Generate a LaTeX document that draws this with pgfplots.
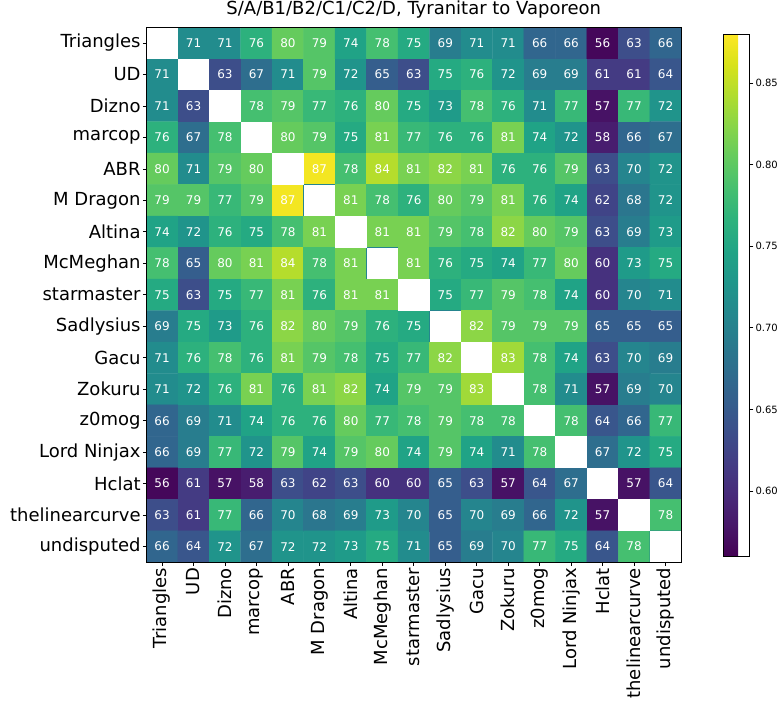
\documentclass[border=0pt]{standalone}
\usepackage{pgfplots}
\pgfplotsset{compat=1.18}
\usepackage{pgfplotstable}
\usepackage{fontspec}
\setmainfont{DejaVu Sans}

% win rates in percent, one matrix row per line (row = first player)
% diagonal entries are placeholders, covered in white later
\pgfplotstableread[row sep=\\]{%
v\\%
70\\71\\71\\76\\80\\79\\74\\78\\75\\69\\71\\71\\66\\66\\56\\63\\66\\%
71\\70\\63\\67\\71\\79\\72\\65\\63\\75\\76\\72\\69\\69\\61\\61\\64\\%
71\\63\\70\\78\\79\\77\\76\\80\\75\\73\\78\\76\\71\\77\\57\\77\\72\\%
76\\67\\78\\70\\80\\79\\75\\81\\77\\76\\76\\81\\74\\72\\58\\66\\67\\%
80\\71\\79\\80\\70\\87\\78\\84\\81\\82\\81\\76\\76\\79\\63\\70\\72\\%
79\\79\\77\\79\\87\\70\\81\\78\\76\\80\\79\\81\\76\\74\\62\\68\\72\\%
74\\72\\76\\75\\78\\81\\70\\81\\81\\79\\78\\82\\80\\79\\63\\69\\73\\%
78\\65\\80\\81\\84\\78\\81\\70\\81\\76\\75\\74\\77\\80\\60\\73\\75\\%
75\\63\\75\\77\\81\\76\\81\\81\\70\\75\\77\\79\\78\\74\\60\\70\\71\\%
69\\75\\73\\76\\82\\80\\79\\76\\75\\70\\82\\79\\79\\79\\65\\65\\65\\%
71\\76\\78\\76\\81\\79\\78\\75\\77\\82\\70\\83\\78\\74\\63\\70\\69\\%
71\\72\\76\\81\\76\\81\\82\\74\\79\\79\\83\\70\\78\\71\\57\\69\\70\\%
66\\69\\71\\74\\76\\76\\80\\77\\78\\79\\78\\78\\70\\78\\64\\66\\77\\%
66\\69\\77\\72\\79\\74\\79\\80\\74\\79\\74\\71\\78\\70\\67\\72\\75\\%
56\\61\\57\\58\\63\\62\\63\\60\\60\\65\\63\\57\\64\\67\\70\\57\\64\\%
63\\61\\77\\66\\70\\68\\69\\73\\70\\65\\70\\69\\66\\72\\57\\70\\78\\%
66\\64\\72\\67\\72\\72\\73\\75\\71\\65\\69\\70\\77\\75\\64\\78\\70\\%
}\winrates

\begin{document}
\begin{tikzpicture}
\path[use as bounding box] (-146.3pt,-146pt) rectangle (630.7pt,562.3pt);
\begin{axis}[
    at={(0pt,0pt)}, anchor=south west,
    scale only axis, width=535pt, height=535pt,
    xmin=-0.5, xmax=16.5, ymin=-0.5, ymax=16.5,
    xtick={0,...,16}, ytick={0,...,16},
    xticklabels={Triangles,UD,Dizno,marcop,ABR,M Dragon,Altina,McMeghan,starmaster,Sadlysius,Gacu,Zokuru,z0mog,Lord Ninjax,Hclat,thelinearcurve,undisputed},
    yticklabels={undisputed,thelinearcurve,Hclat,Lord Ninjax,z0mog,Zokuru,Gacu,Sadlysius,starmaster,McMeghan,Altina,M Dragon,ABR,marcop,Dizno,UD,Triangles},
    tick pos=left, tick align=outside, major tick length=3.5pt,
    major tick style={black, line width=0.8pt},
    axis line style={line width=0.8pt},
    axis on top,
    tick label style={font=\fontsize{18}{21}\selectfont, inner sep=2pt},
    xticklabel style={rotate=90, anchor=east},
    title={S/A/B1/B2/C1/C2/D, Tyranitar to Vaporeon},
    title style={font=\fontsize{18}{21}\selectfont, at={(0.5,1)}, anchor=base, yshift=6.5pt, inner sep=0pt},
    colormap/viridis,
    point meta min=0.56, point meta max=0.88,
    colorbar,
    colorbar style={
        at={(parent axis.north east)}, anchor=north west,
        xshift=34pt, yshift=-6.7pt,
        scale only axis, width=26pt, height=522.3pt,
        ytick={0.60,0.65,0.70,0.75,0.80,0.85},
        ytick pos=right, tick align=outside, major tick length=3.5pt,
        major tick style={black, line width=0.8pt},
        axis line style={line width=0.8pt},
        yticklabel style={font=\fontsize{10}{12}\selectfont, inner sep=2pt,
            /pgf/number format/fixed, /pgf/number format/fixed zerofill,
            /pgf/number format/precision=2, /pgf/number format/assume math mode=true},
    },
]
\addplot[matrix plot*, mesh/cols=17, point meta=explicit]
    table[x index=0, y index=0, x expr={mod(\coordindex,17)}, y expr={16-floor((\coordindex+0.5)/17)},
          meta expr={\thisrow{v}/100+0.005}] {\winrates};

\addplot[draw=none, mark=none, nodes near coords, point meta=explicit symbolic,
    every node near coord/.append style={white, font=\fontsize{12}{14}\selectfont, anchor=center, inner sep=0pt}]
    table[x index=0, y index=0, x expr={mod(\coordindex,17)}, y expr={16-floor((\coordindex+0.5)/17)}, meta=v] {\winrates};

% empty diagonal
\addplot[fill=white, draw=none] coordinates {(-0.5,15.5) (0.5,15.5) (0.5,16.5) (-0.5,16.5)};
\addplot[fill=white, draw=none] coordinates {(0.5,14.5) (1.5,14.5) (1.5,15.5) (0.5,15.5)};
\addplot[fill=white, draw=none] coordinates {(1.5,13.5) (2.5,13.5) (2.5,14.5) (1.5,14.5)};
\addplot[fill=white, draw=none] coordinates {(2.5,12.5) (3.5,12.5) (3.5,13.5) (2.5,13.5)};
\addplot[fill=white, draw=none] coordinates {(3.5,11.5) (4.5,11.5) (4.5,12.5) (3.5,12.5)};
\addplot[fill=white, draw=none] coordinates {(4.5,10.5) (5.5,10.5) (5.5,11.5) (4.5,11.5)};
\addplot[fill=white, draw=none] coordinates {(5.5,9.5) (6.5,9.5) (6.5,10.5) (5.5,10.5)};
\addplot[fill=white, draw=none] coordinates {(6.5,8.5) (7.5,8.5) (7.5,9.5) (6.5,9.5)};
\addplot[fill=white, draw=none] coordinates {(7.5,7.5) (8.5,7.5) (8.5,8.5) (7.5,8.5)};
\addplot[fill=white, draw=none] coordinates {(8.5,6.5) (9.5,6.5) (9.5,7.5) (8.5,7.5)};
\addplot[fill=white, draw=none] coordinates {(9.5,5.5) (10.5,5.5) (10.5,6.5) (9.5,6.5)};
\addplot[fill=white, draw=none] coordinates {(10.5,4.5) (11.5,4.5) (11.5,5.5) (10.5,5.5)};
\addplot[fill=white, draw=none] coordinates {(11.5,3.5) (12.5,3.5) (12.5,4.5) (11.5,4.5)};
\addplot[fill=white, draw=none] coordinates {(12.5,2.5) (13.5,2.5) (13.5,3.5) (12.5,3.5)};
\addplot[fill=white, draw=none] coordinates {(13.5,1.5) (14.5,1.5) (14.5,2.5) (13.5,2.5)};
\addplot[fill=white, draw=none] coordinates {(14.5,0.5) (15.5,0.5) (15.5,1.5) (14.5,1.5)};
\addplot[fill=white, draw=none] coordinates {(15.5,-0.5) (16.5,-0.5) (16.5,0.5) (15.5,0.5)};
\end{axis}
\end{tikzpicture}
\end{document}
